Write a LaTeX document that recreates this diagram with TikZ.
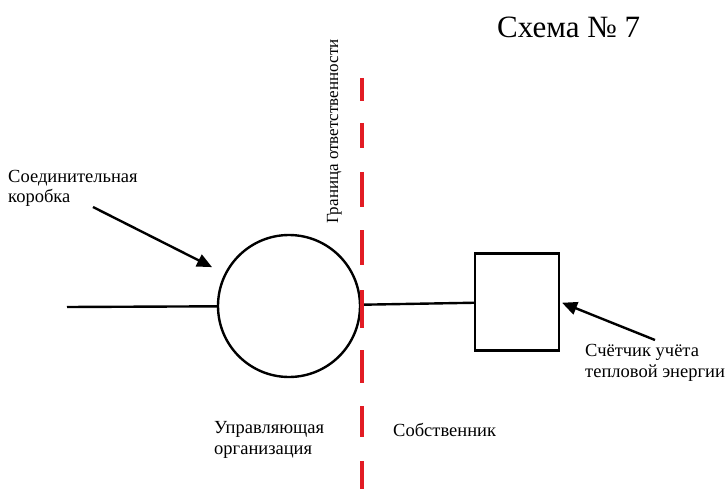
\documentclass[tikz,border=0pt]{standalone}
\usepackage{fontspec}
\setmainfont{Liberation Serif}
\usetikzlibrary{arrows.meta}
\definecolor{boundred}{RGB}{226,28,36}
\begin{document}
\begin{tikzpicture}[
    x=1pt, y=-1pt,
    label/.style={
      font=\fontsize{18.5}{20.5}\selectfont,
      align=left,
      anchor=base west,
      inner sep=0pt
    },
    pipe/.style={line width=2.4pt},
    pointer/.style={
      line width=2.4pt,
      -{Triangle[length=15pt,width=13pt]}
    }
  ]

  \useasboundingbox (0,0) rectangle (728,489);

  \node[label, font=\fontsize{31}{36}\selectfont] (title) at (497,38) {Схема № 7};

  \node[circle, draw, pipe, minimum size=142pt, inner sep=0pt] (junction) at (289,306) {};
  \node[draw, pipe, minimum width=84pt, minimum height=97pt, inner sep=0pt] (meter) at (517,302) {};

  \coordinate (inlet) at (67,307);
  \coordinate (jtail) at (93,207);
  \coordinate (mtail) at (655,340);

  \draw[pipe] (inlet) -- (junction);
  \draw[pipe] (junction) -- (meter);

  % boundary line
  \foreach \a/\b in {78/101, 123/148, 172/207, 230/265, 290/328, 350/383, 406/437, 461/489}
    \draw[boundred, line width=3.2pt] (362,\a) -- (362,\b);

  \node[label, rotate=90, font=\fontsize{17}{19}\selectfont] (bound) at (338,224) {Граница ответственности};

  \draw[pointer, shorten >=14pt] (jtail) -- (junction);
  \draw[pointer, shorten >=2pt] (mtail) -- (meter.east);

  % two-line labels: base is the last line
  \node[label] (jlabel) at (8,203) {Соединительная\\коробка};
  \node[label] (mlabel) at (585,377) {Счётчик учёта\\тепловой энергии};
  \node[label] (org) at (214,454) {Управляющая\\организация};
  \node[label] (owner) at (393,436) {Собственник};

\end{tikzpicture}
\end{document}
